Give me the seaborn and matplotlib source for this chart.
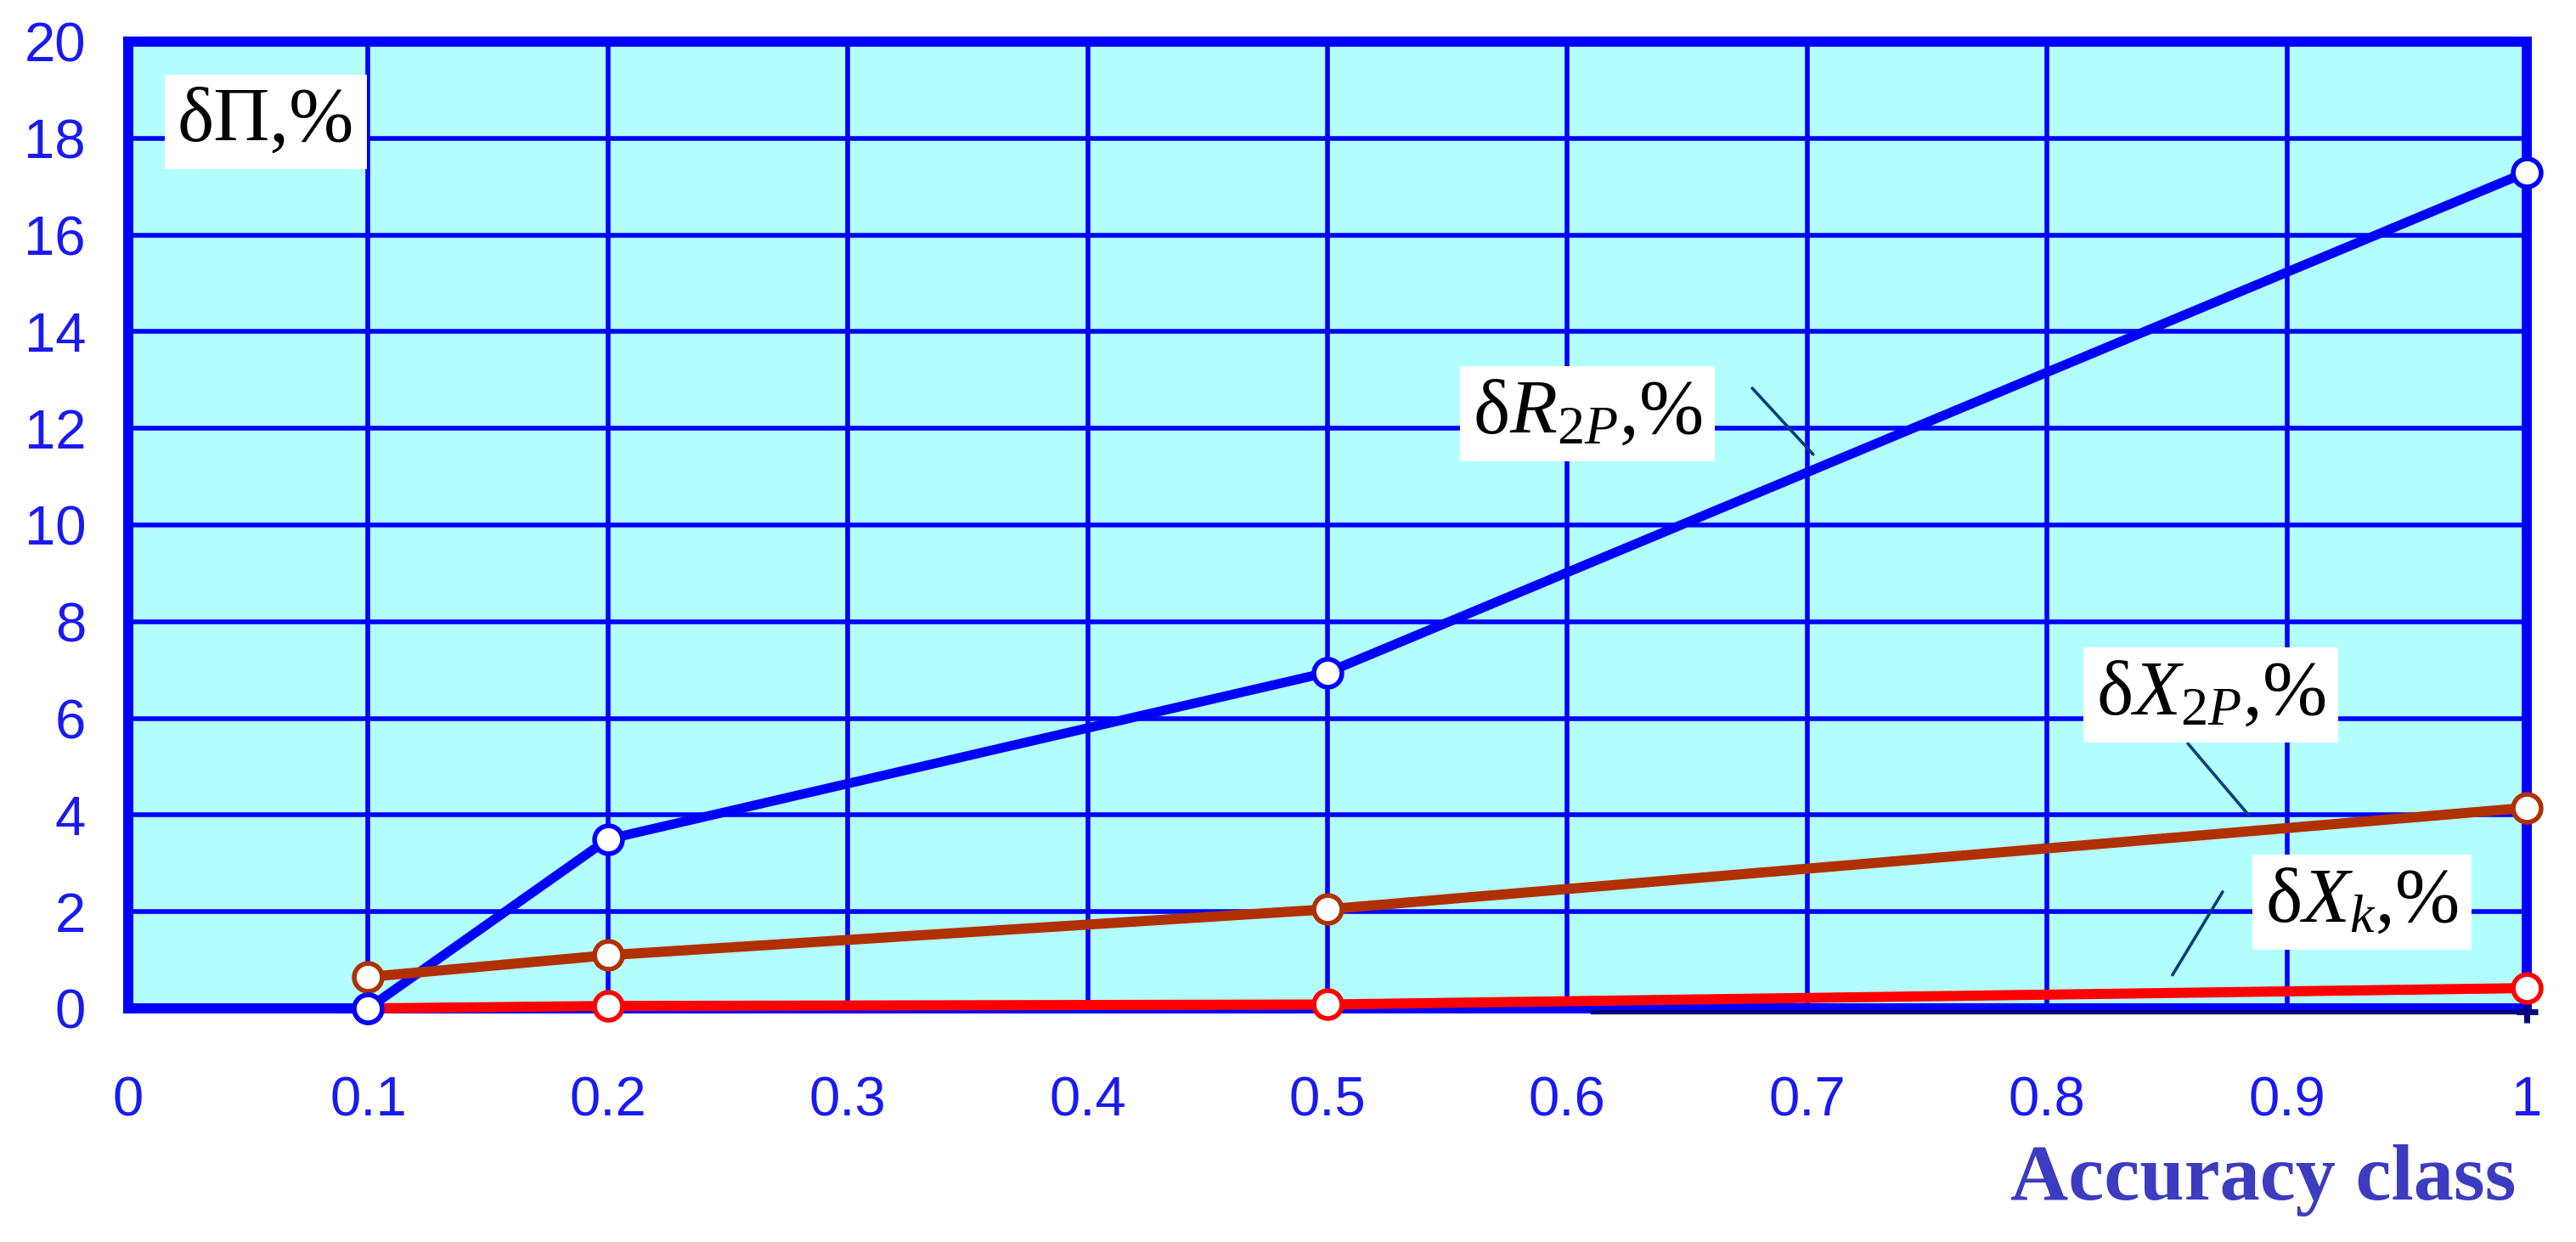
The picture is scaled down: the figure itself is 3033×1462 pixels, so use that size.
import matplotlib
matplotlib.use("Agg")
import matplotlib.pyplot as plt
import numpy as np
import pandas as pd
import seaborn as sns

# ---------------- data ----------------
accuracy_class = [0.1, 0.2, 0.5, 1.0]
dR2P = [0.0, 3.5, 6.95, 17.3]      # δR_2P, %
dX2P = [0.65, 1.1, 2.05, 4.15]     # δX_2P, %
dXk = [0.0, 0.05, 0.08, 0.42]      # δX_k, %
aux_x = [0.61, 1.0]                # near-zero auxiliary trace
aux_y = [-0.07, -0.07]

x_ticks = [0, 0.1, 0.2, 0.3, 0.4, 0.5, 0.6, 0.7, 0.8, 0.9, 1.0]
x_tick_labels = ["0", "0.1", "0.2", "0.3", "0.4", "0.5", "0.6", "0.7", "0.8", "0.9", "1"]
y_ticks = [0, 2, 4, 6, 8, 10, 12, 14, 16, 18, 20]
y_tick_labels = [str(v) for v in y_ticks]

label_texts = ["δП,%", "δ$R_{2P}$,%", "δ$X_{2P}$,%", "δ$X_{k}$,%"]
label_pos = [(0.0574, 18.34), (0.6084, 12.30), (0.8683, 6.48), (0.9313, 2.20)]
leaders = [None,
           ((0.6771, 12.83), (0.7025, 11.46)),
           ((0.8587, 5.48), (0.8842, 3.99)),
           ((0.8732, 2.41), (0.8523, 0.69))]

# ---------------- style ----------------
BLUE = "#0000FF"
BROWN = "#B03000"
RED = "#FF0000"
NAVY = "#000080"
LEADER = "#00407A"
BG = "#B3FFFF"

sns.set_style("white")
plt.rcParams["font.family"] = ["Liberation Serif", "DejaVu Serif"]
plt.rcParams["mathtext.fontset"] = "custom"
plt.rcParams["mathtext.rm"] = "Liberation Serif"
plt.rcParams["mathtext.it"] = "Liberation Serif:italic"
plt.rcParams["mathtext.bf"] = "Liberation Serif:bold"

fig = plt.figure(figsize=(30.33, 14.62), dpi=100)
ax = fig.add_axes([0.04979, 0.18810, 0.93109, 0.77838])
ax.set_facecolor(BG)

df = pd.DataFrame({"accuracy_class": accuracy_class, "dR2P": dR2P,
                   "dX2P": dX2P, "dXk": dXk})
df_aux = pd.DataFrame({"x": aux_x, "y": aux_y})

# lines
sns.lineplot(data=df, x="accuracy_class", y="dR2P", color=BLUE, lw=8.0,
             clip_on=False, zorder=3, ax=ax, legend=False)
sns.lineplot(data=df_aux, x="x", y="y", color=NAVY, lw=3.8,
             clip_on=False, zorder=3.1, ax=ax, legend=False)
sns.lineplot(data=df, x="accuracy_class", y="dX2P", color=BROWN, lw=8.6,
             clip_on=False, zorder=3.3, ax=ax, legend=False)
sns.lineplot(data=df, x="accuracy_class", y="dXk", color=RED, lw=8.6,
             clip_on=False, zorder=3.4, ax=ax, legend=False)

# markers
ms_area = 560
sns.scatterplot(data=df, x="accuracy_class", y="dXk", s=ms_area, color="white",
                edgecolor=RED, linewidth=4, clip_on=False, zorder=5, ax=ax, legend=False)
sns.scatterplot(data=df, x="accuracy_class", y="dX2P", s=ms_area, color="white",
                edgecolor=BROWN, linewidth=4, clip_on=False, zorder=6, ax=ax, legend=False)
sns.scatterplot(data=df, x="accuracy_class", y="dR2P", s=ms_area, color="white",
                edgecolor=BLUE, linewidth=4, clip_on=False, zorder=7, ax=ax, legend=False)
ax.plot(aux_x[-1:], aux_y[-1:], marker="+", ms=18, mew=5, color=NAVY,
        clip_on=False, zorder=4.5, ls="none")

# axes
ax.set_xlim(0, 1)
ax.set_ylim(0, 20)
ax.set_xticks(x_ticks)
ax.set_xticklabels(x_tick_labels)
ax.set_yticks(y_ticks)
ax.set_yticklabels(y_tick_labels)
ax.tick_params(axis="both", length=0, labelsize=47, labelcolor="#1A1AF0")
ax.tick_params(axis="x", pad=57)
ax.tick_params(axis="y", pad=36)
for lab in ax.get_xticklabels() + ax.get_yticklabels():
    lab.set_fontfamily(["Liberation Sans", "DejaVu Sans"])

ax.set_axisbelow(True)
ax.grid(True, color=BLUE, lw=4.0)
for sp in ax.spines.values():
    sp.set_visible(True)
    sp.set_color(BLUE)
    sp.set_linewidth(8.6)
    sp.set_capstyle("projecting")
    sp.set_zorder(2.5)

ax.set_xlabel("")
ax.set_ylabel("")

# x-axis title
fig.text(2962 / 3033, 1 - 1412 / 1462, "Accuracy class", ha="right", va="baseline",
         fontsize=68, fontweight="bold", color="#3C3CC0",
         family=["Liberation Serif", "DejaVu Serif"])

# labels with white boxes and leader lines
for txt, (lx, ly), ld in zip(label_texts, label_pos, leaders):
    if ld is not None:
        ax.annotate("", xy=ld[1], xytext=ld[0],
                    arrowprops=dict(arrowstyle="-", color=LEADER, lw=2.6,
                                    shrinkA=0, shrinkB=0),
                    zorder=8, annotation_clip=False)
    ax.text(lx, ly, txt, ha="center", va="center", fontsize=66, color="black",
            zorder=9,
            bbox=dict(boxstyle="square,pad=0.16", facecolor="white", edgecolor="none"))

fig.savefig("out.png", dpi=100, facecolor="white")
